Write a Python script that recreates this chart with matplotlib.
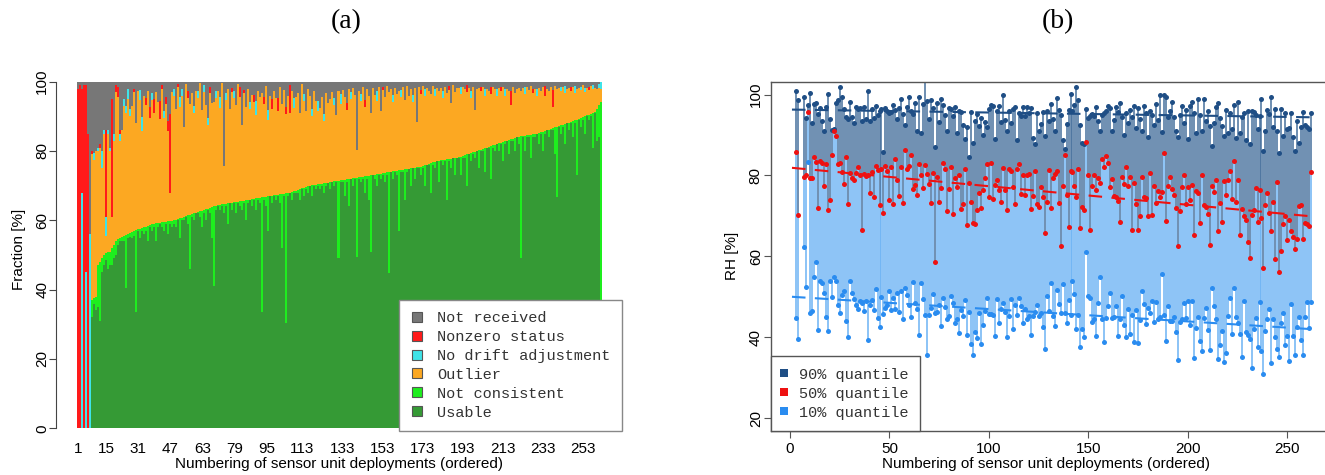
import numpy as np
import matplotlib
matplotlib.use("Agg")
import matplotlib.pyplot as plt
from matplotlib.lines import Line2D

nan = np.nan

# ---------------- Panel (a): fractions per deployment (ordered) ----------------
usable = [
0,0,0,0,0,0,0,32,36,34,
35,31,45,47,48.5,46,47,47,49,50,
53,54,54,54,40.5,55,55.3,55,55.5,33.5,
57,55,57,56,57,54,58,57,58,54,
58,59,58,57,59,56,59,58,59,58,
60,55,60,60,61,59,46,61,60,62,
62,61,58,62,60,63,62,55,41,63,
64,63,64,62,64,59,65,63,65,62,
65,64,63,65,60,65,66,64,66,63,
66,65,33.5,66,64,57,67,65,67,66,
67,65,52,67,30.3,67,68,66,68,68,
68,66,69,67,69,68,70,67,70,69,
70,69,70,68,70,70.9,69,71,70,71,
49,71,71,67,71,64,72,70,72,49.5,
72,71,72,68,72,66,51,73,72,70,
73,72,73,71,73,44.8,74,72,74,73,
56.8,74,74,66,74,74.9,70,75,72,75,
75,73,75,70,76,76,68,76,75,77,
71,77,76,77,66,77,75,77.9,73,78,
78,73,78,78,70,79,77,79,78,80,
75,80,80,74,81,81,72,81,80,82,
80,82,77,82,83,79,83,83,80,84,
82,49,84,80,84,84,78,84,84,85,
82,85,80,85,86,84,86,86,79,66.6,
87,85,87,82,88,86,88,84,88,73,
89,87,89,85,90,89,90,80.8,91,83,84,0]

not_consistent = [
0,0,0,0,0,0,0,5,1.5,4,
12,17,4,3,2,5,4,5,4,4,
1.5,1,1.2,1.5,15.2,1,1,1.6,1.4,23.7,
0.4,2.6,0.8,2,1.2,4.4,0.6,1.8,1,5.1,
1.2,0.3,1.4,2.5,0.6,3.7,0.8,1.9,1,2.2,
0.4,5.6,0.8,1,0.2,2.4,15.6,0.8,2,0.2,
0.4,1.6,4.8,1,3.2,0.4,1.6,8.8,23,1.2,
0.4,1.5,0.6,2.7,0.8,5.9,0,2.1,0.2,3.3,
0.4,1.5,2.6,0.7,5.8,0.9,0,2.1,0.2,3.3,
0.4,1.5,33.1,0.7,2.8,9.9,0,2.1,0.2,1.3,
0.4,2.5,15.6,0.7,37.5,0.9,0,2.2,0.4,0.6,
0.8,3,0.2,2.4,0.6,1.8,0,3.1,0.2,1.3,
0.4,1.5,0.6,2.7,0.8,0,2,0.1,1.2,0.3,
22.4,0.5,0.6,4.7,0.8,7.9,0,2.1,0.2,22.8,
0.4,1.5,0.6,4.7,0.8,6.9,22,0.1,1.2,3.3,
0.4,1.5,0.6,2.7,0.8,29.1,0,2.1,0.2,1.3,
17.6,0.5,0.6,8.7,0.8,0,5,0.1,3.2,0.3,
0.4,2.5,0.7,5.9,0.1,0.3,8.5,0.7,1.9,0.1,
6.2,0.3,1.4,0.5,11.6,0.7,2.8,0,5,0.1,
0.2,5.4,0.6,0.8,9,0.2,2.4,0.6,1.8,0,
5.2,0.4,0.6,6.8,0,0.2,9.4,0.6,1.8,0,
2.2,0.4,5.6,0.8,0,4.2,0.4,0.6,3.8,0,
2.1,35.2,0.3,4.4,0.5,0.6,6.7,0.8,0.9,0,
3.2,0.4,5.6,0.8,0,2.2,0.4,0.6,7.8,20.4,
0.2,2.4,0.6,5.8,0,2.2,0.4,4.6,0.8,16,
0.3,2.6,0.9,5.1,0.3,1.5,0.7,10.1,0.2,9,9.3,94]

outlier = [
0,0,0,0,0,0,0,42,40,42,
33,33,26,35,5,34,29,9,30,43,
41,28,31,37.5,35.3,39,33.7,36.4,40,30.8,
40,37,28,38,35,39,31,36,32,38,
35,30,38.6,30,34,26,8,37,36,32,
38,32,35,26,38,34,32,35,29,35,
33,37,29,34,30,24,33,30,30,31,
33,28,35,11,30,33,27,32,30,28,
34,30,22,31,27,32,26,30,28,24,
31,29,30,27,32,22,29,25,30,28,
24,31,26,30,23,28,23,29,24,27,
28,22,30,25,22,28,26,20,27,24,
21,22,25,18,26,23,24,26,22,19,
26,22,26,24,20,26,23,26,24,8,
25,22,26,20,25,23,18,25,23,21,
25,18,24,22,25,23,24,20,24,22,
23,21,24,20,24,21,23,19,23,13,
23,21,23,20,22,21,20,22,19,21,
20,21,18,21,19,20,16,21,19,20,
20,18,20,19,18,19,16,19,12,18,
18,17,18,15,17,16,15,17,16,14,
16,15,16,13,15,14,10,15,13,14,
14,13,14,12,14,13,14,12,13,11,
13,12,13,10,12,11,12,6,12,11,
11,10,11,9,10,10,9,10,8,9,
9,8,9,7,8,7,8,7,7,6,5,4]

no_drift = [
0,0,68,0,45,0,56,0,2,0,
1,0,5,1,5.5,1,1,0,2,0,
0,2,0,2,2,3,2,0,0,0,
0,3,4,0,0,0,0,2,0,0,
0,0,0,2,0,0,0,0,2,0,
0,3,2,0,0,0,0,0,2,0,
2,0,0,2,0,2,0,0,0,2,
0,3,0,0,2,0,0,0,2,0,
0,0,0,0,0,0,2,0,0,4,
0,0,0,0,0,3,0,0,0,0,
0,0,0,0,0,0,0,0,3,0,
0,0,0,2,0,0,0,2,0,0,
3,0,0,2,0,0,0,0,2,0,
0,3,0,0,0,0,2,0,0,0,
0,2,0,0,0,0,0,0,0,3,
0,0,0,0,0,0,0,2,0,0,
0,2,0,0,0,0,0,2,0,0,
0,0,0,2,0,0,0,0,2,0,
0,0,2,0,0,0,0,0,0,0,
0,2,0,0,0,0,2,0,0,0,
0,0,0,2,0,0,0,0,0,2,
0,0,0,2,0,0,0,0,0,0,
0,0,0,2,0,0,0,0,0,2,
0,0,0,0,0,0,0,0,0,0,
0,1,0,2,0,0,0,0,2,0,
0,1,0,1,0,0,0,1,0,0,1,2]

nonzero_status = [
98,99,30,99,54,85,0,1,0,0,
0,1,0,0,25,0,0,34,0,2,
3,1,0,0,0,0,0,0,1,0,
0,0,0,0,2,0,3,0,4,0,
0,5,1,0,2,3,23,0,0,0,
1,0,0,0,0,2,0,0,0,0,
0,0,0,0,0,0,2,0,0,0,
0,0,0,0,0,0,0,1,0,0,
0,3,0,1,0,0,0,0,2,0,
0,0,0,2,0,0,0,3,0,0,
4,0,0,0,2,0,8,0,0,0,
0,0,0,0,0,0,0,0,0,0,
0,0,0,0,0,0,0,0,0,0,
0,0,0,0,2,0,0,0,0,0,
0,0,0,2,0,0,0,0,0,0,
0,0,1,0,0,0,0,0,0,0,
0,0,0,0,0,0,0,0,0,0,
0,1,0,0,0,0,0,0,0,0,
0,0,0,0,0,1,0,0,0,0,
0,0,0,0,2,0,0,0,0,0,
0,1,0,0,0,0,2,0,0,0,
0,1,0,0,0,0,4,0,0,0,
0,0,0,0,0,0,0,1,0,0,
0,0,0,3,0,0,0,5,0,0,
0,0,0,0,0,0,1,0,0,0,
0,0,0,0,0,1,0,0,0,0,0,0]

tick_labels_a = [1, 15, 31, 47, 63, 79, 95, 113, 133, 153, 173, 193, 213, 233, 253]
categories = ["Not received", "Nonzero status", "No drift adjustment",
              "Outlier", "Not consistent", "Usable"]

# ---------------- Panel (b): RH quantiles per deployment ----------------
q90 = [
nan,nan,100.8,98.6,nan,nan,99.3,94.2,97.5,100.5,
93.0,97.8,98.0,95.2,96.8,93.5,91.0,97.0,100.2,94.0,
91.3,91.5,98.0,98.6,102.0,99.5,96.5,94.5,94.0,98.2,
94.5,93.0,97.0,96.5,96.8,93.5,97.0,94.0,101.0,93.5,
96.5,94.2,97.2,95.0,96.0,96.5,85.9,96.8,96.0,95.5,
95.6,97.5,96.1,94.0,96.7,99.0,95.3,92.4,97.0,99.3,
96.0,95.2,98.0,91.0,99.4,90.6,97.8,105.0,98.5,94.0,
98.6,96.7,87.0,98.0,93.2,99.0,97.5,95.0,91.0,96.7,
96.4,94.6,97.0,90.5,96.0,95.8,92.5,89.0,92.0,84.5,
95.6,88.0,93.4,95.2,92.3,94.3,90.0,93.3,92.0,96.4,
97.5,97.3,89.0,96.0,97.2,93.3,99.8,93.7,91.0,96.0,
92.9,96.5,97.0,88.9,95.5,94.8,96.9,94.6,97.0,95.5,
96.8,89.3,87.9,95.5,91.0,92.7,95.8,89.7,96.0,93.5,
97.7,94.0,91.1,99.2,96.2,95.0,88.7,86.5,92.7,96.3,
100.2,96.0,97.5,102.0,98.7,92.4,88.0,87.7,96.5,94.3,
94.6,95.2,94.8,97.0,93.5,91.0,95.0,95.5,96.0,97.3,
96.7,91.0,93.8,96.9,95.6,97.9,94.5,90.0,95.5,93.0,
96.2,94.5,97.3,91.8,96.8,94.0,91.0,97.2,95.5,89.5,
96.0,95.0,92.6,97.7,93.8,100.0,90.7,100.0,99.3,94.4,
95.9,98.3,94.5,91.0,89.6,95.0,97.2,93.0,96.3,89.0,
97.2,98.3,95.5,90.5,98.8,94.9,91.0,99.0,93.4,96.0,
92.3,87.3,93.0,97.0,98.0,94.1,92.2,89.8,96.2,90.6,
95.4,91.4,97.4,89.3,98.3,90.6,94.5,95.5,88.9,96.0,
87.8,96.0,95.8,95.0,91.4,94.8,98.9,86.0,91.0,96.2,
95.3,99.5,92.0,96.5,91.0,85.6,96.4,89.8,95.5,91.5,
91.7,95.5,89.5,86.0,93.6,88.0,92.1,95.8,92.5,92.0,91.6,95.5]

q50 = [
nan,nan,85.7,70.2,nan,nan,79.7,80.0,95.7,79.5,
79.3,84.5,83.3,72.0,83.6,83.0,77.5,82.8,71.5,74.0,
85.0,91.0,89.8,82.8,83.0,80.8,78.0,84.5,73.0,80.5,
79.5,79.0,80.5,82.0,80.2,66.5,80.4,79.8,80.1,75.6,
80.8,74.8,82.4,81.3,72.6,81.7,70.8,82.3,81.1,74.0,
82.2,73.0,84.1,79.0,75.0,82.0,73.2,86.3,81.6,82.4,
85.0,76.7,77.6,75.1,82.9,80.0,76.8,82.7,80.3,78.0,
73.2,80.5,58.7,79.6,73.4,77.0,83.1,81.7,71.3,76.7,
82.2,70.4,79.3,77.2,80.0,71.8,73.0,81.6,67.7,78.2,
73.4,68.3,68.0,71.5,75.7,72.0,76.4,79.4,82.8,74.7,
83.0,74.1,77.7,79.0,76.3,73.5,81.9,76.4,71.5,81.6,
81.2,77.2,73.0,81.6,82.8,75.3,80.2,75.2,80.0,80.3,
71.8,75.0,81.2,73.0,72.2,77.1,74.8,65.8,73.5,81.3,
72.0,79.5,80.3,81.0,73.2,62.6,77.5,85.0,75.2,67.3,
81.2,80.8,77.5,74.6,81.5,66.9,72.3,71.5,88.2,80.1,
66.5,77.5,80.0,76.3,79.3,78.1,84.0,82.2,84.9,83.2,
77.1,79.2,75.0,74.6,73.8,68.5,79.6,78.0,82.1,77.4,
79.6,66.6,78.1,73.0,66.4,70.0,79.7,74.8,74.5,69.9,
80.5,70.3,77.4,73.3,76.1,74.7,76.0,85.5,68.7,77.3,
79.6,76.7,75.1,72.0,62.5,71.1,77.2,80.2,73.0,77.2,
73.9,77.7,65.3,76.2,75.6,68.3,80.1,72.8,72.2,70.4,
62.9,77.4,76.0,79.0,66.2,73.3,68.5,78.6,75.1,78.9,
81.0,74.1,83.5,73.4,78.9,65.4,71.7,70.0,69.0,63.6,
59.5,70.2,71.4,77.0,68.4,76.3,69.5,57.2,72.7,75.6,
70.6,66.2,73.5,59.3,78.4,56.1,61.3,67.9,70.0,64.0,
69.0,66.3,64.8,61.9,64.3,72.5,72.8,64.2,68.2,68.0,67.6,80.9]

q10 = [
nan,nan,44.8,39.5,nan,nan,62.4,52.5,83.3,46.0,
46.5,55.0,58.5,41.8,54.0,53.5,51.0,45.0,41.5,54.0,
50.0,55.0,54.0,48.0,46.0,50.5,51.5,44.0,40.0,53.8,
51.0,49.5,48.0,47.0,49.0,48.5,46.5,49.0,39.3,48.0,
49.2,46.8,52.0,44.8,42.5,50.0,45.8,47.2,48.0,51.5,
46.7,49.6,47.0,51.0,46.2,51.4,44.6,52.1,50.5,48.0,
45.0,53.6,48.5,47.0,40.5,53.5,49.5,45.5,35.6,45.6,
47.3,50.8,45.9,46.2,47.9,42.8,49.6,47.4,44.5,45.3,
50.3,48.5,43.5,44.5,41.0,46.8,45.2,49.2,40.6,46.2,
38.4,35.5,41.4,39.8,46.0,38.3,43.0,46.6,49.6,45.7,
45.8,45.5,40.2,49.5,43.4,47.0,48.5,46.2,40.0,45.2,
49.5,42.0,47.9,45.4,49.8,47.6,43.6,47.0,44.4,45.2,
40.6,45.3,46.2,48.0,45.2,46.0,42.6,37.0,50.2,46.6,
53.4,45.3,42.8,51.8,48.2,46.0,53.2,45.9,43.4,49.2,
45.5,54.0,50.8,42.1,45.6,37.7,42.0,40.0,61.0,50.2,
49.8,43.7,44.6,40.2,48.5,55.0,44.6,38.9,44.7,47.8,
51.0,44.8,45.0,47.6,40.3,44.5,50.2,42.9,40.0,47.1,
40.7,45.5,38.8,46.8,38.5,44.3,51.4,48.3,43.2,47.3,
45.9,49.0,43.7,48.8,44.5,45.0,55.7,45.5,39.0,47.8,
44.0,43.9,45.1,41.3,34.4,43.8,44.5,48.4,44.8,49.0,
43.1,48.9,34.8,42.3,45.1,39.0,36.5,44.8,47.3,41.8,
36.8,52.2,47.7,44.5,34.6,38.0,41.5,33.8,36.0,45.2,
49.8,40.8,52.2,45.0,43.5,40.8,35.1,49.0,41.3,40.5,
39.6,32.3,42.0,44.8,37.6,48.8,36.5,31.0,41.5,44.4,
47.0,33.5,44.4,40.1,37.0,35.2,43.5,46.0,38.0,40.2,
34.0,48.2,40.2,35.5,42.6,44.9,39.2,35.6,45.0,48.7,42.3,48.8]

# fitted trend lines (value at first and last deployment)
trend_x = [1, 262]
trend90 = [96.3, 94.4]
trend50 = [81.9, 69.9]
trend10 = [50.0, 42.0]
quantile_labels = ["90% quantile", "50% quantile", "10% quantile"]

# ---------------- styling ----------------
W, H = 1325, 475
plt.rcParams["font.family"] = ["Liberation Sans", "DejaVu Sans"]
MONO = ["Liberation Mono", "DejaVu Sans Mono"]
SERIF = ["Liberation Serif", "DejaVu Serif"]

c_nr = "#777777"
c_nz = "#ff1a1a"
c_nd = "#3fe3e8"
c_out = "#fca822"
c_nc = "#1eee1e"
c_use = "#359a35"

c_dark = "#1f4e85"
c_dark_ln = "#46709c"
c_light_pt = "#2a8cf0"
c_light_ln = "#6cb3f4"
c_red = "#ee1111"

fig = plt.figure(figsize=(W / 100, H / 100), dpi=100)

def rect(l, t, r, b):
    return [l / W, 1 - b / H, (r - l) / W, (b - t) / H]

# ---------------- Panel (a) ----------------
n = len(usable)
x = np.arange(1, n + 1)
U = np.array(usable, float)
C = np.array(not_consistent, float)
O = np.array(outlier, float)
D = np.array(no_drift, float)
Z = np.array(nonzero_status, float)
NR = np.clip(100 - (U + C + O + D + Z), 0, None)

ax1 = fig.add_axes(rect(56.3, 67.8, 622.7, 431))
bottom = np.zeros(n)
for vals, col in [(U, c_use), (C, c_nc), (O, c_out), (D, c_nd), (Z, c_nz), (NR, c_nr)]:
    ax1.bar(x, vals, bottom=bottom, width=1.0, color=col, linewidth=0)
    bottom = bottom + vals

ax1.set_xlim(0.5 - 0.04 * n, 0.5 + 1.04 * n)
ax1.set_ylim(-0.78, 104)
for s in ["top", "right", "bottom"]:
    ax1.spines[s].set_visible(False)
ax1.spines["left"].set_bounds(0, 100)
ax1.spines["left"].set_color("#444444")
ax1.set_yticks([0, 20, 40, 60, 80, 100])
ax1.tick_params(axis="y", direction="out", length=5, width=0.8, color="#444444",
                labelsize=11, pad=0)
for t in ax1.get_yticklabels():
    t.set_rotation(90)
    t.set_va("center")
ax1.set_xticks(tick_labels_a)
ax1.set_xticklabels([str(v) for v in tick_labels_a])
ax1.tick_params(axis="x", length=0, labelsize=11, pad=8)
ax1.set_ylabel("Fraction [%]", fontsize=11)
ax1.yaxis.set_label_coords((26 - 56.3) / 566.4, 0.5)
ax1.set_xlabel("Numbering of sensor unit deployments (ordered)", fontsize=11)
ax1.xaxis.set_label_coords((339 - 56.3) / 566.4, -(457 - 431) / 363.2)

handles_a = [Line2D([], [], linestyle="none", marker="s", markersize=7.5,
                    markerfacecolor=c, markeredgecolor="#555555", markeredgewidth=0.8)
             for c in [c_nr, c_nz, c_nd, c_out, c_nc, c_use]]
leg1 = ax1.legend(handles_a, categories, loc="lower right",
                  bbox_to_anchor=(621.7 / W, 1 - 431 / H), bbox_transform=fig.transFigure,
                  prop={"family": MONO, "size": 11}, frameon=True, fancybox=False,
                  edgecolor="#888888", framealpha=1, borderpad=0.75, labelspacing=0.32,
                  handlelength=0.9, handletextpad=0.83, borderaxespad=0)
leg1.get_frame().set_linewidth(1.0)
for t in leg1.get_texts():
    t.set_color("#333333")

# ---------------- Panel (b) ----------------
ax2 = fig.add_axes(rect(771.2, 81.7, 1332.0, 431))
xb = np.arange(1, len(q90) + 1)
a90 = np.array(q90, float)
a50 = np.array(q50, float)
a10 = np.array(q10, float)
ok = ~np.isnan(a50)

ax2.vlines(xb[ok], a10[ok], a50[ok], color=c_light_ln, linewidth=1.1, zorder=2)
ax2.vlines(xb[ok], a50[ok], a90[ok], color=c_dark_ln, linewidth=1.1, zorder=2)
ax2.plot(xb, a90, "o", color=c_dark, markersize=3.6, markeredgewidth=0, zorder=4)
ax2.plot(xb, a10, "o", color=c_light_pt, markersize=3.6, markeredgewidth=0, zorder=4)
ax2.plot(xb, a50, "o", color=c_red, markersize=3.6, markeredgewidth=0, zorder=5)

dash = (0, (6.5, 4.5))
ax2.plot(trend_x, trend90, color=c_dark, linewidth=1.5, linestyle=dash, zorder=6)
ax2.plot(trend_x, trend50, color=c_red, linewidth=1.5, linestyle=dash, zorder=6)
ax2.plot(trend_x, trend10, color=c_light_pt, linewidth=1.5, linestyle=dash, zorder=6)

nb = len(q90)
ax2.set_xlim(1 - 0.04 * (nb - 1), nb + 0.04 * (nb - 1))
ax2.set_ylim(16.8, 103.2)
for s in ax2.spines.values():
    s.set_color("#555555")
    s.set_linewidth(1.0)
ax2.set_xticks([0, 50, 100, 150, 200, 250])
ax2.set_yticks([20, 40, 60, 80, 100])
ax2.tick_params(axis="both", direction="out", length=5, width=0.8, color="#555555",
                labelsize=11)
ax2.tick_params(axis="x", pad=3)
ax2.tick_params(axis="y", pad=1)
for t in ax2.get_yticklabels():
    t.set_rotation(90)
    t.set_va("center")
ax2.set_ylabel("RH [%]", fontsize=11)
ax2.yaxis.set_label_coords((739 - 771.2) / 560.8, 0.5)
ax2.set_xlabel("Numbering of sensor unit deployments (ordered)", fontsize=11)
ax2.xaxis.set_label_coords((1046 - 771.2) / 560.8, -(457 - 431) / 349.3)

handles_b = [Line2D([], [], linestyle="none", marker="s", markersize=5.5,
                    markerfacecolor=c, markeredgewidth=0)
             for c in [c_dark, c_red, c_light_pt]]
leg2 = ax2.legend(handles_b, quantile_labels, loc="lower left",
                  bbox_to_anchor=(770.5 / W, 1 - 431 / H), bbox_transform=fig.transFigure,
                  prop={"family": MONO, "size": 11}, frameon=True, fancybox=False,
                  edgecolor="#555555", framealpha=1, borderpad=0.75, labelspacing=0.32,
                  handlelength=0.3, handletextpad=0.81, borderaxespad=0)
leg2.get_frame().set_linewidth(1.0)
leg2.set_zorder(10)
for t in leg2.get_texts():
    t.set_color("#333333")

# ---------------- panel titles ----------------
fig.text(346 / W, 1 - 22 / H, "(a)", ha="center", va="center", fontsize=20, family=SERIF)
fig.text(1058 / W, 1 - 22 / H, "(b)", ha="center", va="center", fontsize=20, family=SERIF)

fig.savefig("out.png", dpi=100)
